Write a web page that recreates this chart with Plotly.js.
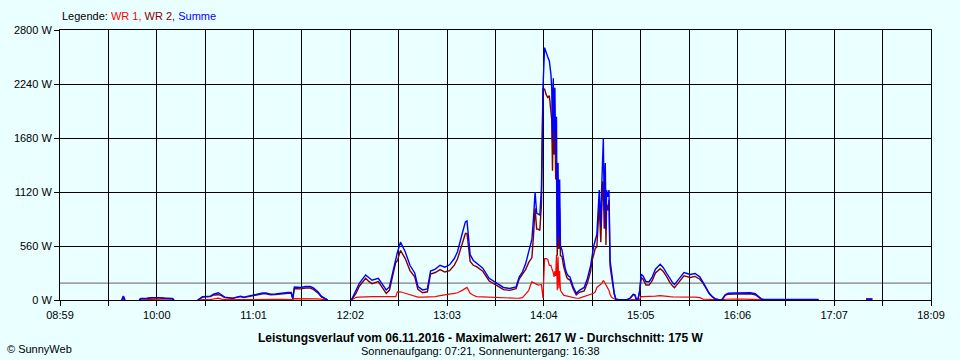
<!DOCTYPE html>
<html><head><meta charset="utf-8">
<script src="https://cdn.plot.ly/plotly-3.0.1.min.js"></script>
<style>html,body{margin:0;padding:0;background:#eaffff;}#chart{width:960px;height:360px;}</style>
</head><body><div id="chart"></div>
<script>
// Time stamps (HH:MM[:SS]); null rows break the line where the inverters were off
const times = [
"09:38","09:39","09:40","09:44",
"09:49","09:50","09:54","09:57","10:02","10:05","10:10","10:11","10:18",
"10:26","10:29","10:34","10:36","10:39","10:41","10:43","10:48","10:50","10:53","10:55","10:58","11:00","11:03","11:07","11:09","11:12","11:15","11:19","11:23","11:25","11:26","11:27","11:31","11:34","11:37","11:39","11:42","11:44","11:47","11:48","11:55",
"12:03","12:06","12:08","12:12","12:14","12:16","12:20","12:22","12:25","12:27","12:29","12:31","12:32","12:34","12:37","12:40","12:43","12:45","12:48","12:51","12:53","12:56","12:59","13:02","13:05","13:08","13:10","13:13","13:15","13:16","13:17","13:18","13:20","13:22","13:26","13:30","13:35","13:39","13:43","13:47","13:49","13:51","13:53","13:55","13:56","13:57","13:58","13:59","14:00","14:01","14:02","14:03","14:04","14:05","14:06","14:07","14:08",
"14:09","14:09:30","14:10","14:10:30","14:11","14:11:30","14:12","14:12:30","14:13","14:13:30","14:14","14:14:30","14:15","14:16",
"14:17","14:18","14:19","14:20","14:21","14:23","14:25","14:27","14:30","14:32","14:34","14:35","14:36","14:37",
"14:38","14:39:30","14:40:30","14:41","14:41:40","14:42:05","14:42:40","14:43:20","14:43:45","14:44:10","14:44:50","14:45:40","14:46:20",
"14:47","14:48","14:49","14:50","14:51","14:52","14:57","14:59","15:00","15:01","15:02","15:03","15:04","15:05","15:06","15:07","15:09","15:11","15:13","15:15","15:18","15:20","15:22","15:24","15:26","15:27","15:29","15:31","15:33","15:35","15:37","15:40","15:43","15:45","15:47","15:49","15:51","15:53","15:55","15:57","15:59","16:01","16:05","16:10","16:15","16:18","16:20","16:22","16:24","16:58","17:05",
"17:28","17:32"
];
// WR 1 (W)
const wr1 = [
0,4,0,null,
0,2,3,4,4,3,2,0,null,
0,5,5,8,20,10,5,3,5,5,5,5,6,6,7,7,6,6,7,8,8,3,15,15,16,16,15,12,8,2,0,null,
0,28,30,35,35,35,35,35,35,35,35,35,85,85,70,55,40,30,30,30,30,35,45,50,60,68,75,100,120,130,100,70,50,35,32,28,25,22,20,18,20,25,60,100,150,190,180,170,165,155,158,160,20,430,430,420,360,
360,330,310,280,240,300,250,470,100,450,120,300,100,70,
50,45,40,35,30,22,18,20,35,45,55,62,70,85,
130,150,160,170,190,200,190,170,160,150,140,100,60,
35,20,10,5,2,1,1,2,3,4,4,1,1,10,35,35,35,35,38,40,45,40,35,35,33,33,33,33,33,32,32,30,25,10,8,6,4,2,1,1,8,10,10,10,10,10,8,3,1,1,null,
0,0
];
// WR 2 (W)
const wr2 = [
0,36,0,null,
0,13,15,21,21,15,13,0,null,
0,30,35,52,55,45,25,17,25,35,25,35,44,54,65,65,54,56,65,70,70,12,120,115,124,124,110,71,32,3,0,null,
0,72,143,225,193,170,190,141,69,100,252,390,405,515,430,305,240,110,75,85,270,285,315,290,305,362,425,590,690,690,570,400,360,345,298,197,150,108,100,117,220,265,315,390,410,440,670,950,735,735,722,990,2190,2187,2130,2100,2120,
1980,1870,1340,2020,1510,1900,1250,1430,460,970,530,950,460,450,
350,285,235,215,210,118,52,80,95,175,295,408,490,535,
550,990,600,970,1230,1200,740,1250,570,990,930,1040,355,
275,150,60,5,3,2,2,18,37,56,51,4,9,85,230,220,155,155,202,280,325,295,245,185,142,127,167,207,252,243,233,245,215,175,122,64,31,8,2,2,47,60,62,60,65,55,32,7,4,4,null,
10,10
];
// Summe (W)
const summe = [
0,40,0,null,
0,15,18,25,25,18,15,0,null,
0,35,40,60,75,55,30,20,30,40,30,40,50,60,72,72,60,62,72,78,78,15,135,130,140,140,125,83,40,5,0,null,
0,100,173,260,228,205,225,176,104,135,287,425,490,600,500,360,280,140,105,115,300,320,360,340,365,430,500,690,810,820,670,470,410,380,330,225,175,130,120,135,240,290,375,490,560,630,850,1120,900,890,880,1150,2210,2617,2560,2520,2480,
2340,2200,1650,2300,1750,2200,1500,1900,560,1420,650,1250,560,520,
400,330,275,250,240,140,70,100,130,220,350,470,560,620,
680,1140,760,1140,1420,1675,930,1420,730,1140,1070,1140,415,
310,170,70,10,5,3,3,20,40,60,55,5,10,95,265,255,190,190,240,320,370,335,280,220,175,160,200,240,285,275,265,275,240,185,130,70,35,10,3,3,55,70,72,70,75,65,40,10,5,5,null,
10,10
];
const tickLabels = ["08:59","","10:00","","11:01","","12:02","","13:03","","14:04","","15:05","","16:06","","17:07","","18:09"];
const yTicks = [0,560,1120,1680,2240,2800];
const avgValue = 175;
const maxValue = 2617;
const dateText = "06.11.2016";
const sunrise = "07:21", sunset = "16:38";

function toMin(s){ const p = s.split(":"); return (+p[0])*60 + (+p[1]) + (p[2] ? (+p[2])/60 : 0); }
const x = times.map(toMin);
const x0 = toMin(tickLabels[0]), x1 = toMin(tickLabels[tickLabels.length-1]);
const tickvals = tickLabels.map((_,i)=> x0 + i*(x1-x0)/(tickLabels.length-1));

const bg = "#eaffff";
const font = "Liberation Sans, Arial, sans-serif";
const L=60, R=931, T=30, B=300;
const px = v => (v-L)/(R-L), py = v => (B-v)/(B-T);

const traces = [
 {x:x, y:wr1, name:"WR 1", mode:"lines", line:{color:"#ff0000", width:1.2}, connectgaps:false},
 {x:x, y:wr2, name:"WR 2", mode:"lines", line:{color:"#800000", width:1.4}, connectgaps:false},
 {x:x, y:summe, name:"Summe", mode:"lines", line:{color:"#0000ff", width:1.4}, connectgaps:false}
];

const layout = {
 width:960, height:360,
 margin:{l:L, r:960-R, t:T, b:360-B, pad:0},
 paper_bgcolor:bg, plot_bgcolor:bg,
 showlegend:false,
 font:{family:font, size:11, color:"#000"},
 xaxis:{range:[x0,x1], tickvals:tickvals, ticktext:tickLabels, ticks:"outside", ticklen:5, tickcolor:"#000",
        showgrid:true, gridcolor:"#000", gridwidth:1, showline:true, linecolor:"#000", linewidth:1, mirror:true,
        zeroline:false, tickfont:{family:font,size:11,color:"#000"}, fixedrange:true},
 yaxis:{range:[0,2800], tickvals:yTicks, ticktext:yTicks.map(v=>v+" W"), ticks:"outside", ticklen:5, tickcolor:"#000",
        showgrid:true, gridcolor:"#000", gridwidth:1, showline:true, linecolor:"#000", linewidth:1, mirror:true,
        zeroline:false, tickfont:{family:font,size:11,color:"#000"}, fixedrange:true},
 shapes:[{type:"line", xref:"paper", x0:0, x1:1, yref:"y", y0:avgValue, y1:avgValue, line:{color:"#808080", width:1.2}, layer:"below"}],
 annotations:[
  {xref:"paper", yref:"paper", x:px(60), y:py(16), xanchor:"left", yanchor:"middle", showarrow:false,
   text:'Legende: <span style="color:#ff0000">WR 1,</span> <span style="color:#800000">WR 2,</span> <span style="color:#0000ff">Summe</span>',
   font:{family:font,size:11,color:"#000"}},
  {xref:"paper", yref:"paper", x:px(480), y:py(338), xanchor:"center", yanchor:"middle", showarrow:false,
   text:"<b>Leistungsverlauf vom "+dateText+" - Maximalwert: "+maxValue+" W - Durchschnitt: "+avgValue+" W</b>",
   font:{family:font,size:12,color:"#000"}},
  {xref:"paper", yref:"paper", x:px(480), y:py(351), xanchor:"center", yanchor:"middle", showarrow:false,
   text:"Sonnenaufgang: "+sunrise+", Sonnenuntergang: "+sunset,
   font:{family:font,size:11,color:"#000"}},
  {xref:"paper", yref:"paper", x:px(5), y:py(349), xanchor:"left", yanchor:"middle", showarrow:false,
   text:"© SunnyWeb", font:{family:font,size:11,color:"#000"}}
 ]
};
Plotly.newPlot("chart", traces, layout, {staticPlot:true, displayModeBar:false});
</script>
</body></html>
